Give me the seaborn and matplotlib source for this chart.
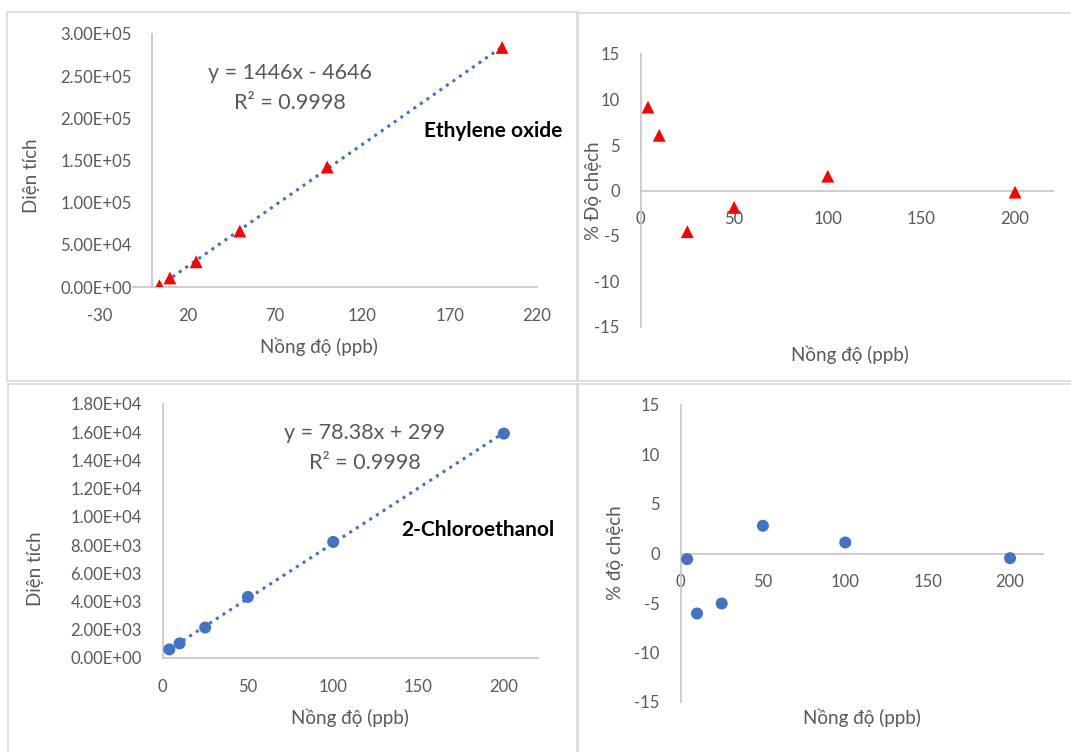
import matplotlib
matplotlib.use("Agg")
import matplotlib.pyplot as plt
from matplotlib.patches import Rectangle
from matplotlib.ticker import FuncFormatter, MultipleLocator
import numpy as np
import pandas as pd
import seaborn as sns

# ---------------- data ----------------
conc = [4, 10, 25, 50, 100, 200]                     # Nồng độ (ppb)
eo_area = [1667, 10690, 29864, 66311, 142226, 284034]  # Ethylene oxide, Diện tích
eo_bias = [9.16, 6.06, -4.53, -1.86, 1.57, -0.18]     # % Độ chệch
ce_area = [611, 1035, 2160, 4328, 8224, 15902]        # 2-Chloroethanol, Diện tích
ce_bias = [-0.57, -6.06, -5.05, 2.80, 1.11, -0.47]    # % độ chệch

eo_eq = "y = 1446x - 4646"
ce_eq = "y = 78.38x + 299"
r2_text = "R² = 0.9998"
eo_name = "Ethylene oxide"
ce_name = "2-Chloroethanol"
xlabel = "Nồng độ (ppb)"
ylabel_area = "Diện tích"
ylabel_bias_eo = "% Độ chệch"
ylabel_bias_ce = "% độ chệch"

df_eo = pd.DataFrame({"x": conc, "area": eo_area, "bias": eo_bias})
df_ce = pd.DataFrame({"x": conc, "area": ce_area, "bias": ce_bias})

# ---------------- style ----------------
sns.set_theme(style="white")
plt.rcParams["font.family"] = ["Lato", "DejaVu Sans"]
plt.rcParams["axes.unicode_minus"] = False

W, H = 1071, 752
fig = plt.figure(figsize=(W / 100, H / 100), dpi=100)
fig.patch.set_facecolor("white")

GRID = "#D9D9D9"
AX = "#C9C9C9"
TXT = "#595959"
RED = "#FF0000"
BLUE = "#4472C4"

TICK_FS = 12
TITLE_FS = 13.5
EQ_FS = 15.5
NAME_FS = 15


def px_rect(x0, x1, ytop, ybot):
    return [x0 / W, 1 - ybot / H, (x1 - x0) / W, (ybot - ytop) / H]


# panel borders (Excel chart frames)
for (x0, y0, x1, y1) in [(7, 12, 578, 381), (577, 13, 1075, 381),
                         (8, 384, 578, 756), (577, 384, 1075, 756)]:
    fig.patches.append(Rectangle((x0 / W, 1 - y1 / H), (x1 - x0) / W, (y1 - y0) / H,
                                 transform=fig.transFigure, fill=False,
                                 edgecolor=GRID, lw=1.2, zorder=0))


def style_axes(ax):
    ax.set_facecolor("none")
    for s in ["top", "right"]:
        ax.spines[s].set_visible(False)
    for s in ["left", "bottom"]:
        ax.spines[s].set_color(AX)
        ax.spines[s].set_linewidth(1.3)
    ax.tick_params(axis="both", length=0, labelsize=TICK_FS, labelcolor=TXT, pad=15)
    ax.grid(False)


def set_labels(ax, xl, yl, xpos, ypos):
    ax.set_xlabel(xl, fontsize=TITLE_FS, color=TXT)
    ax.set_ylabel(yl, fontsize=TITLE_FS, color=TXT)
    ax.xaxis.set_label_coords(xpos[0] / W, 1 - xpos[1] / H, transform=fig.transFigure)
    ax.yaxis.set_label_coords(ypos[0] / W, 1 - ypos[1] / H, transform=fig.transFigure)
    ax.xaxis.label.set_va("center")
    ax.yaxis.label.set_va("center")


sci = FuncFormatter(lambda v, p: f"{v:.2E}")
intf = FuncFormatter(lambda v, p: f"{v:.0f}")

# ---------------- top-left: EO calibration ----------------
ax1 = fig.add_axes(px_rect(100, 537, 34, 287))
sns.regplot(data=df_eo, x="x", y="area", ax=ax1, ci=None, scatter=False, truncate=True,
            line_kws=dict(color=BLUE, lw=2.2, ls=(0, (1, 1.6)), zorder=2))
sns.scatterplot(data=df_eo, x="x", y="area", ax=ax1, marker="^", color=RED, s=85,
                edgecolor="none", zorder=3)
ax1.set_xlim(-30, 220)
ax1.set_ylim(0, 300000)
ax1.set_xticks([-30, 20, 70, 120, 170, 220])
ax1.yaxis.set_major_locator(MultipleLocator(50000))
ax1.yaxis.set_major_formatter(sci)
ax1.xaxis.set_major_formatter(intf)
style_axes(ax1)
ax1.spines["left"].set_position(("data", 0))
ax1.spines["left"].set_bounds(0, 300000)
ax1.spines["bottom"].set_bounds(-11, 220)
set_labels(ax1, xlabel, ylabel_area, (319, 347), (31, 176))
ax1.text(290 / W, 1 - 73 / H, eo_eq, transform=fig.transFigure, ha="center", va="center",
         fontsize=EQ_FS, color=TXT)
ax1.text(290 / W, 1 - 103 / H, r2_text, transform=fig.transFigure, ha="center", va="center",
         fontsize=EQ_FS, color=TXT)
ax1.text(493 / W, 1 - 131 / H, eo_name, transform=fig.transFigure, ha="center", va="center",
         fontsize=NAME_FS, fontweight="bold", color="black")

# ---------------- top-right: EO bias ----------------
ax2 = fig.add_axes(px_rect(640.5, 1052.5, 54, 327))
sns.scatterplot(data=df_eo, x="x", y="bias", ax=ax2, marker="^", color=RED, s=85,
                edgecolor="none", zorder=3)
ax2.set_xlim(0, 220)
ax2.set_ylim(-15, 15)
ax2.set_xticks([0, 50, 100, 150, 200])
ax2.yaxis.set_major_locator(MultipleLocator(5))
ax2.xaxis.set_major_formatter(intf)
ax2.yaxis.set_major_formatter(intf)
style_axes(ax2)
ax2.spines["bottom"].set_position(("data", 0))
set_labels(ax2, xlabel, ylabel_bias_eo, (850, 355), (594, 191))

# ---------------- bottom-left: 2-CE calibration ----------------
ax3 = fig.add_axes(px_rect(162.5, 538, 404, 658))
sns.regplot(data=df_ce, x="x", y="area", ax=ax3, ci=None, scatter=False, truncate=True,
            line_kws=dict(color=BLUE, lw=2.2, ls=(0, (1, 1.6)), zorder=2))
sns.scatterplot(data=df_ce, x="x", y="area", ax=ax3, marker="o", color=BLUE, s=75,
                edgecolor="none", zorder=3)
ax3.set_xlim(0, 220)
ax3.set_ylim(0, 18000)
ax3.set_xticks([0, 50, 100, 150, 200])
ax3.yaxis.set_major_locator(MultipleLocator(2000))
ax3.yaxis.set_major_formatter(sci)
ax3.xaxis.set_major_formatter(intf)
style_axes(ax3)
set_labels(ax3, xlabel, ylabel_area, (350, 718), (36, 569))
ax3.text(365 / W, 1 - 433 / H, ce_eq, transform=fig.transFigure, ha="center", va="center",
         fontsize=EQ_FS, color=TXT)
ax3.text(365 / W, 1 - 463 / H, r2_text, transform=fig.transFigure, ha="center", va="center",
         fontsize=EQ_FS, color=TXT)
ax3.text(478 / W, 1 - 530 / H, ce_name, transform=fig.transFigure, ha="center", va="center",
         fontsize=NAME_FS, fontweight="bold", color="black")

# ---------------- bottom-right: 2-CE bias ----------------
ax4 = fig.add_axes(px_rect(680.5, 1043, 405, 702))
sns.scatterplot(data=df_ce, x="x", y="bias", ax=ax4, marker="o", color=BLUE, s=75,
                edgecolor="none", zorder=3)
ax4.set_xlim(0, 220)
ax4.set_ylim(-15, 15)
ax4.set_xticks([0, 50, 100, 150, 200])
ax4.yaxis.set_major_locator(MultipleLocator(5))
ax4.xaxis.set_major_formatter(intf)
ax4.yaxis.set_major_formatter(intf)
style_axes(ax4)
ax4.spines["bottom"].set_position(("data", 0))
set_labels(ax4, xlabel, ylabel_bias_ce, (862, 718), (615, 553))

for ax in (ax1, ax2, ax3, ax4):
    leg = ax.get_legend()
    if leg is not None:
        leg.remove()

fig.savefig("out.png", dpi=100, facecolor="white")
